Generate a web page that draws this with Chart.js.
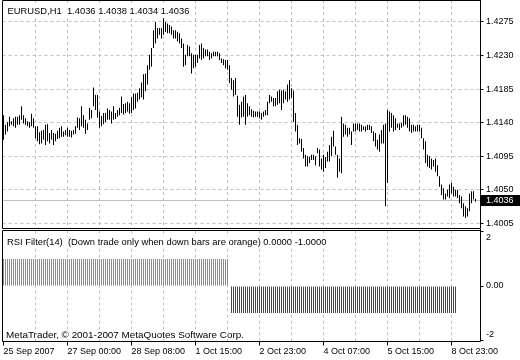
<!DOCTYPE html>
<html>
<head>
<meta charset="utf-8">
<script src="https://cdn.jsdelivr.net/npm/chart.js@4.4.1/dist/chart.umd.min.js"></script>
<style>
  html, body { margin: 0; padding: 0; background: #fff; }
  #wrap { position: relative; width: 520px; height: 360px; overflow: hidden;
          font-family: 'Liberation Sans', Arial, sans-serif; color: #000; }
  #priceBox { position: absolute; left: 0; top: 0; width: 520px; height: 229px; }
  #rsiBox   { position: absolute; left: 0; top: 229px; width: 520px; height: 131px; }
  .txt { position: absolute; background: #fff; line-height: 1; white-space: pre; padding: 0 2px; }
</style>
</head>
<body>
<div id="wrap">
  <div id="priceBox"><canvas id="priceChart"></canvas></div>
  <div id="rsiBox"><canvas id="rsiChart"></canvas></div>
  <div class="txt" id="title"  style="left:5.5px; top:5.5px; font-size:9.4px;"></div>
  <div class="txt" id="rsiTxt" style="left:5px; top:236.5px; font-size:9.4px;"></div>
  <div class="txt" id="copyTxt" style="left:4px; top:329.5px; font-size:9.9px;"></div>
</div>
<script>
// EURUSD H1, one bar per hour
const HIGHS = [
  1.4150, 1.4137, 1.4141, 1.4148, 1.4142, 1.4146, 1.4148, 1.4148, 1.4150, 1.4162,
  1.4150, 1.4146, 1.4142, 1.4141, 1.4152, 1.4146, 1.4135, 1.4135, 1.4127, 1.4129,
  1.4130, 1.4137, 1.4138, 1.4126, 1.4130, 1.4126, 1.4125, 1.4129, 1.4133, 1.4135,
  1.4128, 1.4130, 1.4133, 1.4130, 1.4129, 1.4130, 1.4135, 1.4147, 1.4146, 1.4162,
  1.4150, 1.4144, 1.4139, 1.4160, 1.4157, 1.4187, 1.4177, 1.4177, 1.4155, 1.4149,
  1.4153, 1.4153, 1.4159, 1.4157, 1.4155, 1.4162, 1.4153, 1.4157, 1.4160, 1.4175,
  1.4165, 1.4166, 1.4168, 1.4166, 1.4174, 1.4179, 1.4179, 1.4180, 1.4186, 1.4194,
  1.4205, 1.4206, 1.4217, 1.4231, 1.4240, 1.4264, 1.4275, 1.4267, 1.4267, 1.4267,
  1.4280, 1.4275, 1.4273, 1.4271, 1.4269, 1.4264, 1.4264, 1.4262, 1.4260, 1.4253,
  1.4246, 1.4231, 1.4244, 1.4242, 1.4233, 1.4231, 1.4231, 1.4231, 1.4244, 1.4246,
  1.4240, 1.4238, 1.4238, 1.4235, 1.4233, 1.4235, 1.4235, 1.4235, 1.4233, 1.4226,
  1.4225, 1.4224, 1.4224, 1.4217, 1.4200, 1.4197, 1.4200, 1.4176, 1.4164, 1.4168,
  1.4175, 1.4177, 1.4166, 1.4162, 1.4158, 1.4156, 1.4155, 1.4155, 1.4155, 1.4153,
  1.4155, 1.4157, 1.4168, 1.4177, 1.4175, 1.4173, 1.4173, 1.4182, 1.4184, 1.4183,
  1.4184, 1.4182, 1.4191, 1.4197, 1.4186, 1.4183, 1.4153, 1.4137, 1.4119, 1.4118,
  1.4106, 1.4097, 1.4095, 1.4094, 1.4097, 1.4097, 1.4095, 1.4106, 1.4104, 1.4092,
  1.4097, 1.4094, 1.4101, 1.4110, 1.4121, 1.4129, 1.4108, 1.4097, 1.4092, 1.4148,
  1.4139, 1.4137, 1.4133, 1.4133, 1.4128, 1.4139, 1.4139, 1.4139, 1.4139, 1.4137,
  1.4135, 1.4135, 1.4137, 1.4137, 1.4135, 1.4128, 1.4126, 1.4117, 1.4124, 1.4130,
  1.4137, 1.4139, 1.4157, 1.4155, 1.4153, 1.4150, 1.4146, 1.4139, 1.4139, 1.4140,
  1.4150, 1.4150, 1.4148, 1.4146, 1.4137, 1.4137, 1.4135, 1.4137, 1.4137, 1.4133,
  1.4119, 1.4115, 1.4097, 1.4095, 1.4092, 1.4090, 1.4092, 1.4083, 1.4068, 1.4057,
  1.4052, 1.4045, 1.4050, 1.4057, 1.4059, 1.4054, 1.4050, 1.4050, 1.4043, 1.4041,
  1.4032, 1.4028, 1.4025, 1.4045, 1.4048, 1.4048, 1.4038,
];

const LOWS = [
  1.4117, 1.4124, 1.4128, 1.4135, 1.4137, 1.4135, 1.4133, 1.4137, 1.4137, 1.4144,
  1.4139, 1.4137, 1.4135, 1.4133, 1.4135, 1.4133, 1.4119, 1.4115, 1.4111, 1.4112,
  1.4117, 1.4110, 1.4115, 1.4112, 1.4117, 1.4110, 1.4115, 1.4118, 1.4119, 1.4121,
  1.4121, 1.4123, 1.4121, 1.4121, 1.4120, 1.4124, 1.4125, 1.4133, 1.4130, 1.4135,
  1.4133, 1.4125, 1.4130, 1.4144, 1.4146, 1.4162, 1.4157, 1.4147, 1.4133, 1.4135,
  1.4138, 1.4141, 1.4144, 1.4144, 1.4139, 1.4144, 1.4145, 1.4148, 1.4150, 1.4153,
  1.4151, 1.4153, 1.4155, 1.4152, 1.4153, 1.4157, 1.4159, 1.4168, 1.4171, 1.4174,
  1.4171, 1.4182, 1.4191, 1.4211, 1.4215, 1.4240, 1.4246, 1.4253, 1.4258, 1.4253,
  1.4258, 1.4262, 1.4260, 1.4260, 1.4258, 1.4253, 1.4253, 1.4249, 1.4246, 1.4240,
  1.4215, 1.4217, 1.4229, 1.4229, 1.4206, 1.4213, 1.4215, 1.4220, 1.4226, 1.4224,
  1.4226, 1.4229, 1.4229, 1.4224, 1.4226, 1.4229, 1.4229, 1.4229, 1.4224, 1.4220,
  1.4217, 1.4213, 1.4211, 1.4193, 1.4184, 1.4175, 1.4177, 1.4148, 1.4137, 1.4147,
  1.4148, 1.4137, 1.4148, 1.4150, 1.4148, 1.4147, 1.4148, 1.4148, 1.4146, 1.4144,
  1.4148, 1.4150, 1.4150, 1.4166, 1.4168, 1.4162, 1.4162, 1.4164, 1.4166, 1.4157,
  1.4166, 1.4171, 1.4168, 1.4171, 1.4173, 1.4141, 1.4128, 1.4110, 1.4112, 1.4101,
  1.4092, 1.4081, 1.4081, 1.4086, 1.4090, 1.4090, 1.4083, 1.4099, 1.4081, 1.4077,
  1.4074, 1.4079, 1.4088, 1.4088, 1.4095, 1.4108, 1.4097, 1.4066, 1.4074, 1.4072,
  1.4121, 1.4124, 1.4121, 1.4124, 1.4110, 1.4128, 1.4128, 1.4130, 1.4128, 1.4128,
  1.4130, 1.4128, 1.4130, 1.4130, 1.4126, 1.4115, 1.4108, 1.4104, 1.4101, 1.4112,
  1.4112, 1.4028, 1.4059, 1.4128, 1.4133, 1.4128, 1.4130, 1.4133, 1.4130, 1.4133,
  1.4135, 1.4137, 1.4133, 1.4128, 1.4126, 1.4128, 1.4128, 1.4128, 1.4128, 1.4119,
  1.4104, 1.4086, 1.4081, 1.4079, 1.4077, 1.4081, 1.4074, 1.4068, 1.4054, 1.4043,
  1.4037, 1.4037, 1.4041, 1.4039, 1.4045, 1.4041, 1.4041, 1.4039, 1.4032, 1.4025,
  1.4014, 1.4012, 1.4014, 1.4021, 1.4032, 1.4037, 1.4034,
];

// RSI filter: 1 = up trade allowed, -1 = down trade only, 0 = none
const FILTER = [
  1,1,1,1,1,1,1,1,1,1, 1,1,1,1,1,1,1,1,1,1, 1,1,1,1,1,1,1,1,1,1,
  1,1,1,1,1,1,1,1,1,1, 1,1,1,1,1,1,1,1,1,1, 1,1,1,1,1,1,1,1,1,1,
  1,1,1,1,1,1,1,1,1,1, 1,1,1,1,1,1,1,1,1,1, 1,1,1,1,1,1,1,1,1,1,
  1,1,1,1,1,1,1,1,1,1, 1,1,1,1,1,1,1,1,1,1, 1,1,1,0,-1,-1,-1,-1,-1,-1,
  -1,-1,-1,-1,-1,-1,-1,-1,-1,-1, -1,-1,-1,-1,-1,-1,-1,-1,-1,-1, -1,-1,-1,-1,-1,-1,-1,-1,-1,-1,
  -1,-1,-1,-1,-1,-1,-1,-1,-1,-1, -1,-1,-1,-1,-1,-1,-1,-1,-1,-1, -1,-1,-1,-1,-1,-1,-1,-1,-1,-1,
  -1,-1,-1,-1,-1,-1,-1,-1,-1,-1, -1,-1,-1,-1,-1,-1,-1,-1,-1,-1, -1,-1,-1,-1,-1,-1,-1,-1,-1,-1,
  -1,-1,-1,-1,-1,-1,-1,-1,-1,-1, -1,-1,-1,-1,-1,-1,-1,
];

const X_LABELS    = ['25 Sep 2007', '27 Sep 00:00', '28 Sep 08:00', '1 Oct 15:00',
                     '2 Oct 23:00', '4 Oct 07:00', '5 Oct 15:00', '8 Oct 23:00'];
const PRICE_TICKS = [1.4005, 1.4050, 1.4095, 1.4140, 1.4185, 1.4230, 1.4275];
const RSI_TICKS   = [-2, 0, 2];
const LAST_OHLC   = [1.4036, 1.4038, 1.4034, 1.4036];

const LABEL_STEP  = 32;   // bars between time labels
const GRID_STEP   = 16;   // bars between vertical grid lines
const EMPTY_SLOTS = 2;    // chart shift on the right
const GRID_COLOR  = '#c0c0c0';
const UP_COLOR    = '#12b9de';
const DOWN_COLOR  = '#cc1010';

Chart.defaults.font.family = "'Liberation Sans', Arial, sans-serif";
Chart.defaults.font.size = 9;
Chart.defaults.color = '#000';

const slots = Array.from({ length: HIGHS.length + EMPTY_SLOTS }, (_, i) => i);

const framePlugin = {
  id: 'frame',
  afterDraw(chart) {
    const { ctx, chartArea: a } = chart;
    const l = Math.floor(a.left) + 0.5, r = Math.floor(a.right) + 0.5;
    const t = Math.floor(a.top) + 0.5,  b = Math.floor(a.bottom) + 0.5;
    ctx.save();
    ctx.strokeStyle = '#000';
    ctx.lineWidth = 1;
    ctx.beginPath();
    ctx.moveTo(r, t); ctx.lineTo(l, t); ctx.lineTo(l, b); ctx.lineTo(r, b); ctx.lineTo(r, 0);
    ctx.stroke();
    ctx.restore();
  }
};

const lastPricePlugin = {
  id: 'lastPrice',
  beforeDatasetsDraw(chart) {
    const { ctx, chartArea: a } = chart;
    const y = Math.round(chart.scales.y.getPixelForValue(LAST_OHLC[3])) + 0.5;
    ctx.save();
    ctx.strokeStyle = GRID_COLOR;
    ctx.beginPath();
    ctx.moveTo(a.left, y); ctx.lineTo(a.right, y);
    ctx.stroke();
    ctx.restore();
  },
  afterDraw(chart) {
    const { ctx, chartArea: a } = chart;
    const y = Math.round(chart.scales.y.getPixelForValue(LAST_OHLC[3]));
    ctx.save();
    ctx.fillStyle = '#000';
    ctx.fillRect(Math.floor(a.right) + 1, y - 5, 40, 11);
    ctx.fillStyle = '#fff';
    ctx.font = "9px 'Liberation Sans', Arial, sans-serif";
    ctx.textBaseline = 'middle';
    ctx.fillText(LAST_OHLC[3].toFixed(4), a.right + 5.5, y + 0.5);
    ctx.restore();
  }
};

function rightAxisFit(scale) {
  scale.width = 39.5;
  scale.paddingTop = 0;
  scale.paddingBottom = 0;
}

function vGridColor(c) {
  return c.index > 0 && c.index % GRID_STEP === 0 ? GRID_COLOR : 'transparent';
}

function renderPriceChart() {
  const ctx = document.getElementById('priceChart').getContext('2d');
  new Chart(ctx, {
    type: 'bar',
    data: {
      labels: slots,
      datasets: [{
        data: HIGHS.map((h, i) => [LOWS[i], h]),
        backgroundColor: '#000',
        borderWidth: 0,
        barThickness: 1,
        inflateAmount: 0,
        grouped: false,
      }]
    },
    options: {
      responsive: true,
      maintainAspectRatio: false,
      animation: false,
      events: [],
      layout: { padding: { left: 2.5, right: 0, top: 0, bottom: 0.5 } },
      plugins: { legend: { display: false }, tooltip: { enabled: false } },
      scales: {
        x: {
          offset: true,
          grid: { offset: false, drawTicks: false, color: vGridColor },
          border: { display: false, dash: [3, 3] },
          ticks: { display: false, autoSkip: false },
          afterFit: s => { s.height = 0; s.paddingLeft = 0; s.paddingRight = 0; },
        },
        y: {
          position: 'right',
          min: 1.39980,
          max: 1.43045,
          afterBuildTicks: s => { s.ticks = PRICE_TICKS.map(v => ({ value: v })); },
          grid: { color: GRID_COLOR, tickLength: 3, tickColor: '#000', tickBorderDash: [] },
          border: { display: false, dash: [3, 3] },
          ticks: { padding: 2.5, callback: v => v.toFixed(4) },
          afterFit: rightAxisFit,
        }
      }
    },
    plugins: [lastPricePlugin, framePlugin]
  });
}

function renderRsiChart() {
  const ctx = document.getElementById('rsiChart').getContext('2d');
  const barStyle = { borderWidth: 0, barThickness: 1, inflateAmount: 0, grouped: false };
  new Chart(ctx, {
    type: 'bar',
    data: {
      labels: slots,
      datasets: [
        { ...barStyle, data: FILTER.map(v => v > 0 ? [0, v] : null), backgroundColor: UP_COLOR },
        { ...barStyle, data: FILTER.map(v => v < 0 ? [v, 0] : null), backgroundColor: DOWN_COLOR },
      ]
    },
    options: {
      responsive: true,
      maintainAspectRatio: false,
      animation: false,
      events: [],
      layout: { padding: { left: 2.5, right: 0, top: 1.5, bottom: 0 } },
      plugins: { legend: { display: false }, tooltip: { enabled: false } },
      scales: {
        x: {
          offset: true,
          grid: {
            offset: false,
            tickLength: 4,
            color: vGridColor,
            tickColor: c => c.index % LABEL_STEP === 0 ? '#000' : 'transparent',
            tickBorderDash: [],
          },
          border: { display: false, dash: [3, 3] },
          ticks: {
            autoSkip: false,
            maxRotation: 0,
            minRotation: 0,
            align: 'start',
            padding: 1,
            callback: (v, i) => i % LABEL_STEP === 0 ? (X_LABELS[i / LABEL_STEP] || '') : '',
          },
          afterFit: s => { s.height = 18.5; s.paddingLeft = 0; s.paddingRight = 0; },
        },
        y: {
          position: 'right',
          min: -2.05,
          max: 2.05,
          afterBuildTicks: s => { s.ticks = RSI_TICKS.map(v => ({ value: v })); },
          grid: { drawOnChartArea: false, tickLength: 3, tickColor: '#000' },
          border: { display: false },
          ticks: {
            padding: 2.5,
            // MT4 keeps the end labels inside the pane
            callback: v => v === 0 ? '0.00' : (v > 0 ? ['', String(v)] : [String(v), '']),
          },
          afterFit: rightAxisFit,
        }
      }
    },
    plugins: [framePlugin]
  });
}

function renderTexts() {
  document.getElementById('title').textContent =
    'EURUSD,H1  ' + LAST_OHLC.map(v => v.toFixed(4)).join(' ');
  const last = FILTER[FILTER.length - 1];
  document.getElementById('rsiTxt').textContent =
    'RSI Filter(14)  (Down trade only when down bars are orange) ' +
    Math.max(last, 0).toFixed(4) + ' ' + Math.min(last, 0).toFixed(4);
  document.getElementById('copyTxt').textContent =
    'MetaTrader, \u00a9 2001-2007 MetaQuotes Software Corp.';
}

renderPriceChart();
renderRsiChart();
renderTexts();
</script>
</body>
</html>
